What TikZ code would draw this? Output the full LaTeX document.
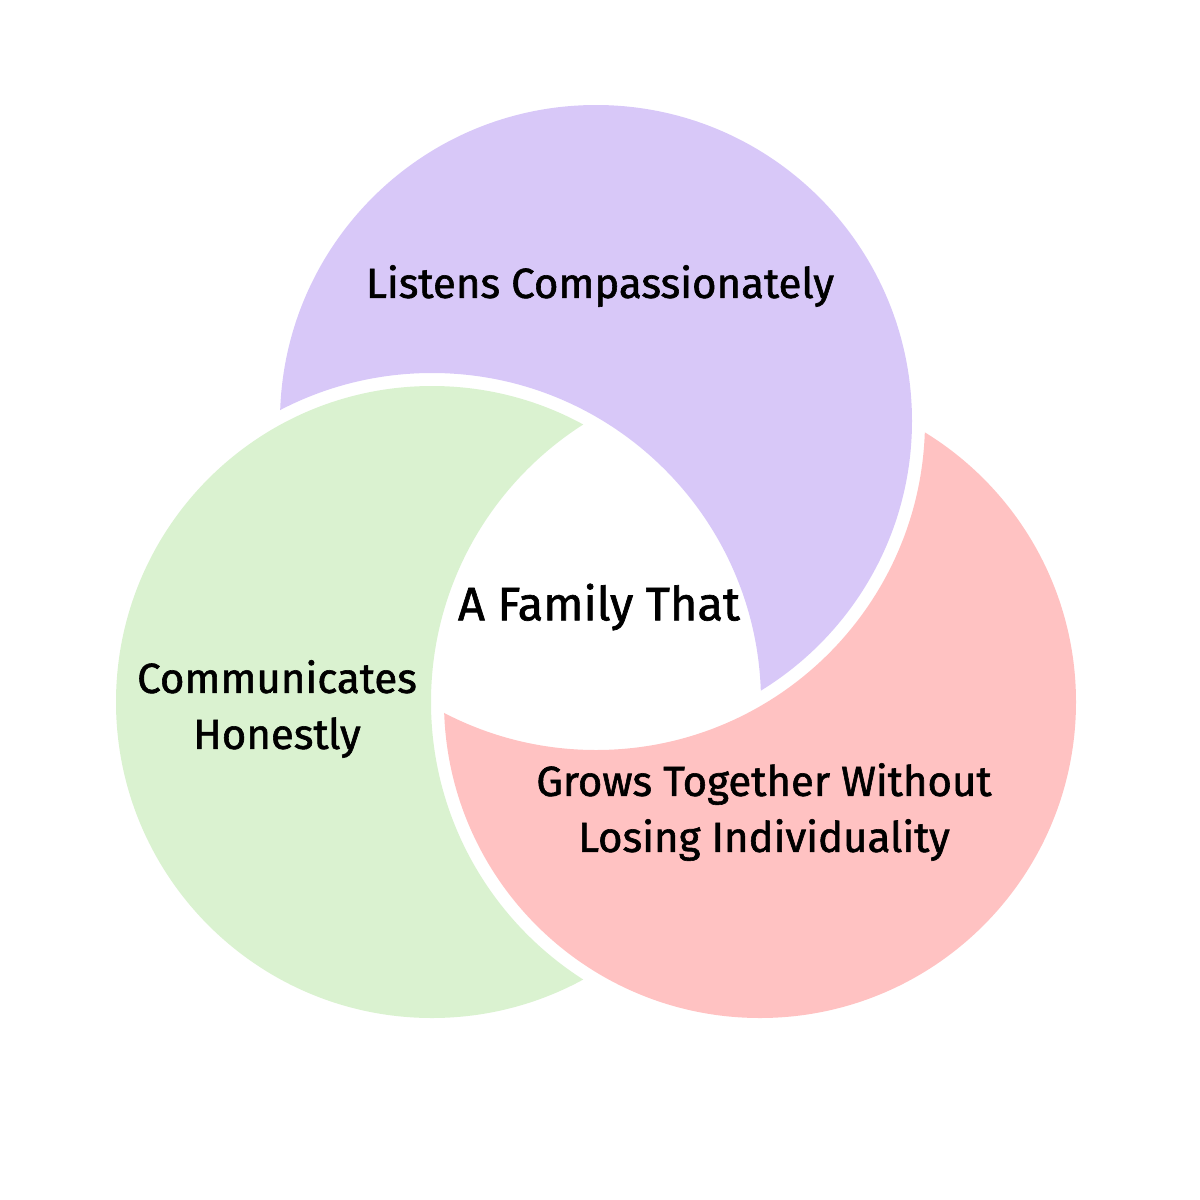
\documentclass[tikz,border=0pt]{standalone}
\usepackage{fontspec}
\setmainfont{Fira Sans}
\newfontfamily\ringfont{Fira Sans}[FakeBold=1.4]
\definecolor{lilac}{HTML}{D8C8F8}
\definecolor{mint}{HTML}{DAF2D0}
\definecolor{blush}{HTML}{FFC2C2}
\newcommand{\ringr}{316}
\newcommand{\gapr}{329}
\tikzset{
petal/.style={fill=#1,draw=none},
ringtext/.style={font=\ringfont\fontsize{42}{56}\selectfont,align=center,text=black,inner sep=0pt}
}

\begin{document}
\begin{tikzpicture}[x=1pt,y=-1pt]
\useasboundingbox (0,0) rectangle (1200,1200);
\coordinate (cp) at (596,421);
\coordinate (cg) at (432,702);
\coordinate (cr) at (760,702);
% each ring is cut by the next one, with a white gap
\begin{scope}[even odd rule]
\clip (0,0) -- (0,1200) -- (1200,1200) -- (1200,0) -- cycle (cg) circle (\gapr);
\fill[petal=lilac] (cp) circle (\ringr);
\end{scope}
\begin{scope}[even odd rule]
\clip (0,0) -- (0,1200) -- (1200,1200) -- (1200,0) -- cycle (cr) circle (\gapr);
\fill[petal=mint] (cg) circle (\ringr);
\end{scope}
\begin{scope}[even odd rule]
\clip (0,0) -- (0,1200) -- (1200,1200) -- (1200,0) -- cycle (cp) circle (\gapr);
\fill[petal=blush] (cr) circle (\ringr);
\end{scope}
\node[ringtext] (listens) at (600,286) {Listens Compassionately};
\node[ringtext,font=\ringfont\fontsize{47}{56}\selectfont] (family) at (599,607) {A Family That};
\node[ringtext] (honest) at (277,709) {Communicates\\Honestly};
\node[ringtext] (grows) at (764,812) {Grows Together Without\\Losing Individuality};
\end{tikzpicture}
\end{document}
